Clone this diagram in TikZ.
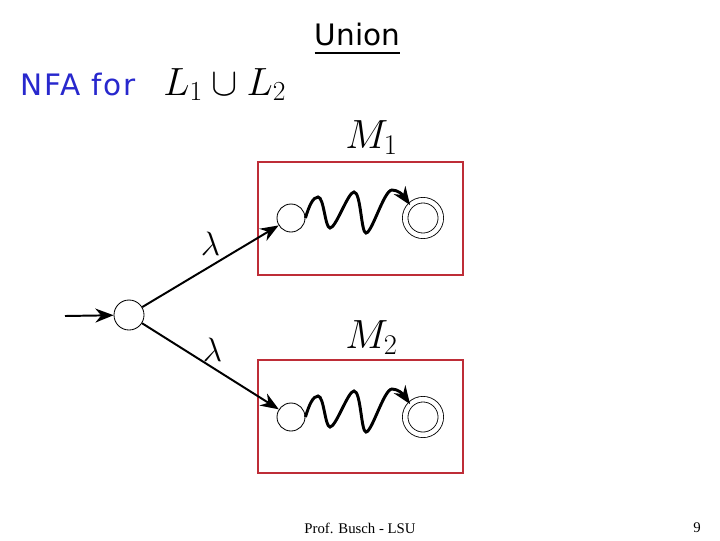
\RequirePackage{fix-cm}
\documentclass[tikz,border=0pt]{standalone}
\usepackage{fontspec}
\usetikzlibrary{arrows.meta,positioning}
\newfontfamily\comicfont{DejaVu Sans}
\newfontfamily\comicwide[LetterSpace=6]{DejaVu Sans}
\newfontfamily\footfont{Liberation Serif}
\definecolor{eRed}{RGB}{190,45,55}
\definecolor{eBlue}{RGB}{40,40,205}
\tikzset{v/.style={circle, draw, line width=0.6pt, inner sep=0pt,
  minimum size=7mm}}
\tikzset{vf/.style={circle, draw, line width=0.6pt, double,
  double distance=1.15mm, inner sep=0pt, minimum size=8.9mm}}
\tikzset{a/.style={draw, line width=1.4pt, -{Stealth[length=13pt,width=10pt]}}}
\tikzset{w/.style={draw, line width=2.1pt, -{Stealth[length=13pt,width=10pt]}}}
\tikzset{mbox/.style={draw, eRed, line width=0.8pt, inner sep=0pt,
  minimum width=5.125cm, minimum height=2.825cm}}
\tikzset{lbl/.style={inner sep=0pt, anchor=base west}}

\begin{document}
\begin{tikzpicture}[x=0.025cm, y=-0.025cm]
            \useasboundingbox (0,0) rectangle (720,540);
            %%
            \node (title) at (357.5,34) [inner sep=0pt] {\fontsize{21}{24}\comicfont Union};
            \draw [line width=1.5pt] ([yshift=-5.7pt]title.base west) -- ([yshift=-5.7pt]title.base east);
            \node (nfa) at (20,95) [lbl, text=eBlue] {\fontsize{21}{24}\comicwide NFA for};
            \node (lang) at (163,95) [lbl] {\fontsize{28}{32}\selectfont $L_1\cup L_2$};
            %%
            \node (s) at (129,315) [v, minimum size=7.5mm] {};
            \coordinate (in) at (65,316);
            \draw [a] (in) to (s);
            \begin{scope}
                \node (m1) at (345,148) [lbl] {\fontsize{29}{32}\selectfont $M_1$};
                \node (box1) at (360.5,218.5) [mbox] {};
                \node (q1) at (291,218) [v] {};
                \node (f1) at (423,218) [vf] {};
                \draw [w] (q1.east) .. controls (309,206) and (313,197) .. (318,197)
                    .. controls (324,197) and (325,228) .. (330,228)
                    .. controls (336,228) and (348,192) .. (354,192)
                    .. controls (361,192) and (361,233) .. (366,233)
                    .. controls (372,233) and (384,190) .. (392,190)
                    .. controls (398,190) and (403,195) .. (f1.north west);
            \end{scope}
            \begin{scope}[shift = {(0,198)}]
                \node (m2) at (345,150) [lbl] {\fontsize{29}{32}\selectfont $M_2$};
                \node (box2) at (360.5,218.5) [mbox] {};
                \node (q2) at (291,219) [v] {};
                \node (f2) at (423,219) [vf] {};
                \draw [w] (q2.east) .. controls (309,207) and (313,198) .. (318,198)
                    .. controls (324,198) and (325,229) .. (330,229)
                    .. controls (336,229) and (348,193) .. (354,193)
                    .. controls (361,193) and (361,234) .. (366,234)
                    .. controls (372,234) and (384,191) .. (392,191)
                    .. controls (398,191) and (403,196) .. (f2.north west);
            \end{scope}
            %%
            \draw [a] (s) to node (lam1) [midway, yshift=0.55cm] {\fontsize{24}{26}\selectfont $\lambda$} (q1);
            \draw [a] (s) to node (lam2) [midway, xshift=0.05cm, yshift=0.4cm] {\fontsize{24}{26}\selectfont $\lambda$} (q2);
            %%
            \node (foot) at (360,528) {\fontsize{10.5}{12}\footfont Prof. Busch - LSU};
            \node (page) at (697,528) {\fontsize{10.5}{12}\footfont 9};
\end{tikzpicture}
\end{document}
